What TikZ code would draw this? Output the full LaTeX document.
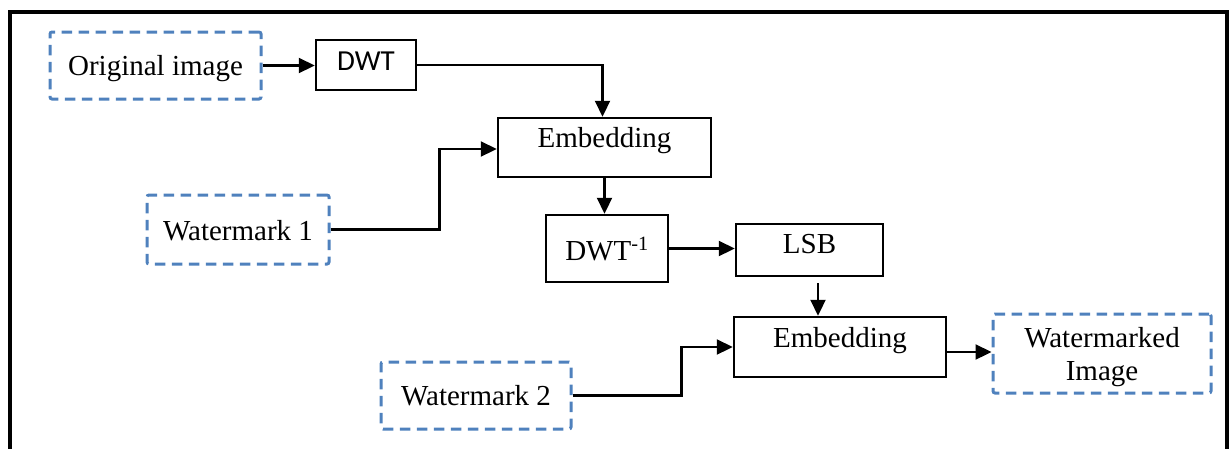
\documentclass[tikz,border=0pt]{standalone}
\usepackage{fontspec}
\setmainfont{Liberation Serif}
\newfontfamily\calibrilike{Carlito}
\usetikzlibrary{arrows.meta,calc}

\definecolor{dashblue}{HTML}{4F81BD}

\tikzset{
  x=1pt, y=-1pt,
  every node/.style={font=\fontsize{29}{33}\selectfont, inner xsep=0pt, inner ysep=0pt},
  solidbox/.style={draw=black, line width=2.5pt, minimum width=#1},
  dashbox/.style={draw=dashblue, line width=3pt, dash pattern=on 10.5pt off 6.5pt,
                  rounded corners=2pt, minimum width=#1},
  txt/.style 2 args={text height=#1pt, text depth=#2pt},
  arr/.style={draw=black, line width=2.2pt,
              -{Triangle[length=16pt, width=15pt]}},
}

\begin{document}
\begin{tikzpicture}
  \useasboundingbox (0,0) rectangle (1230,448);
  % outer frame (runs past the lower edge)
  \draw[line width=4pt] (10,470) -- (10,12) -- (1227,12) -- (1227,470);

  % sources and blocks
  \node[dashbox=211pt, txt={43}{24}] (orig) at (155.5,65.5) {Original image};
  \node[solidbox=100pt, txt={30}{20}, font=\calibrilike\fontsize{29}{33}\selectfont] (dwt) at (366,65) {DWT};
  \node[solidbox=213pt, txt={29}{30}] (emb1) at (604.5,147.5) {Embedding};
  \node[dashbox=182pt, txt={45}{24}] (wm1) at (238,229.5) {Watermark 1};
  \node[solidbox=122pt, txt={45}{22}] (idwt) at (607,248.5) {DWT\textsuperscript{-1}};
  \node[solidbox=147pt, txt={29}{23}] (lsb) at (809.5,250) {LSB};
  \node[solidbox=212pt, txt={30}{30}] (emb2) at (840,347) {Embedding};
  \node[dashbox=190pt, txt={43}{24}] (wm2) at (476,395.5) {Watermark 2};
  \node[dashbox=218pt, txt={66}{13}, align=center] (wmi) at (1102,353.5) {Watermarked\\Image};

  % connectors
  \draw[arr] (orig.east) -- (orig.east -| dwt.west);
  \draw[arr] (dwt.east) -| ($(emb1.north)+(-2,0)$);
  \coordinate (k1) at ($(wm1.east)+(109,0)$);
  \draw[arr] (wm1.east) -- (k1) |- ($(emb1.west)+(0,1.5)$);
  \draw[arr] (emb1.south) -- (emb1.south |- idwt.north);
  \draw[arr] (idwt.east) -- (idwt.east -| lsb.west);
  \coordinate (l1) at ($(lsb.south)+(8.5,6)$);
  \draw[arr] (l1) -- (l1 |- emb2.north);
  \coordinate (k2) at ($(wm2.east)+(109,0)$);
  \draw[arr] (wm2.east) -- (k2) |- (emb2.west);
  \coordinate (e2) at ($(emb2.east)+(0,5)$);
  \draw[arr] (e2) -- (e2 -| wmi.west);
\end{tikzpicture}
\end{document}
